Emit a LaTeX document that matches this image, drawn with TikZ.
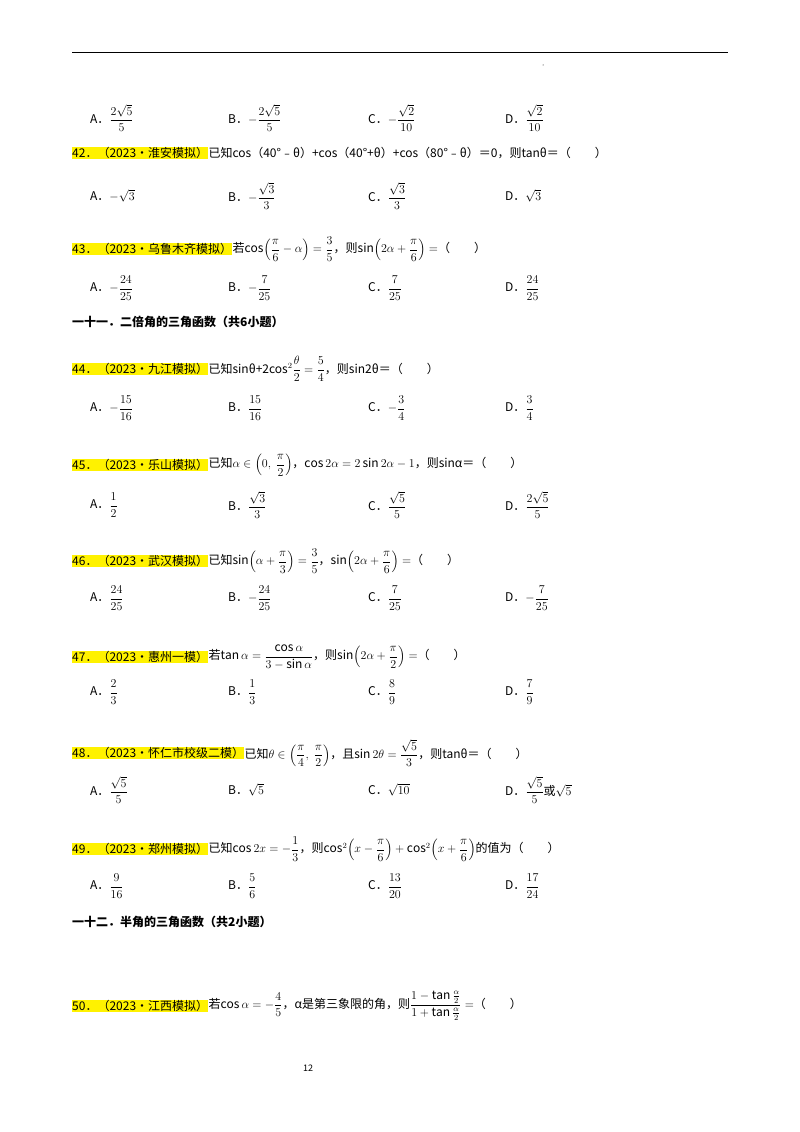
\documentclass[tikz,border=0pt]{standalone}
\usepackage{amsmath}
\usepackage{fontspec}
\setmainfont{Noto Sans CJK SC}
\begin{document}
\begin{tikzpicture}[x=1pt,y=-1pt,
  txt/.style={anchor=west,inner sep=0pt,font=\fontsize{12}{14}\selectfont},
  hl/.style={txt,fill=yellow},
  head/.style={txt,font=\fontsize{12}{14}\selectfont\bfseries}]
\useasboundingbox (0,0) rectangle (800,1132);
\fill[white] (0,0) rectangle (800,1132);
\coordinate (l1) at (72,53); \coordinate (l2) at (728,53);
\draw[line width=1pt] (l1) -- (l2);
\fill (543,65) circle (0.5);
\newcommand{\opts}[5]{%
 \node[txt] (a#1) at (90,#1) {A．#2};
 \node[txt] (b#1) at (228,#1) {B．#3};
 \node[txt] (c#1) at (368,#1) {C．#4};
 \node[txt] (d#1) at (505,#1) {D．#5};}
\opts{118}{$\dfrac{2\sqrt5}{5}$}{$-\dfrac{2\sqrt5}{5}$}{$-\dfrac{\sqrt2}{10}$}{$\dfrac{\sqrt2}{10}$}
\node[hl] (q42) at (72,153) {42．（2023•淮安模拟）};
\node[txt] (t42) at (q42.east) {已知cos（40°﹣θ）+cos（40°+θ）+cos（80°﹣θ）＝0，则tanθ＝（　　）};
\opts{196}{$-\sqrt3$}{$-\dfrac{\sqrt3}{3}$}{$\dfrac{\sqrt3}{3}$}{$\sqrt3$}
\node[hl] (q43) at (72,249) {43．（2023•乌鲁木齐模拟）};
\node[txt] (t43) at (q43.east) {若$\cos\!\left(\dfrac{\pi}{6}-\alpha\right)=\dfrac35$，则$\sin\!\left(2\alpha+\dfrac{\pi}{6}\right)=$（　　）};
\opts{288}{$-\dfrac{24}{25}$}{$-\dfrac{7}{25}$}{$\dfrac{7}{25}$}{$\dfrac{24}{25}$}
\node[head] (h11) at (72,322) {一十一．二倍角的三角函数（共6小题）};
\node[hl] (q44) at (72,369) {44．（2023•九江模拟）};
\node[txt] (t44) at (q44.east) {已知sinθ+2cos$^2\dfrac{\theta}{2}=\dfrac54$，则sin2θ＝（　　）};
\opts{408}{$-\dfrac{15}{16}$}{$\dfrac{15}{16}$}{$-\dfrac{3}{4}$}{$\dfrac{3}{4}$}
\node[hl] (q45) at (72,465) {45．（2023•乐山模拟）};
\node[txt] (t45) at (q45.east) {已知$\alpha\in\left(0,\ \dfrac{\pi}{2}\right)$，$\cos2\alpha=2\sin2\alpha-1$，则sinα＝（　　）};
\opts{505}{$\dfrac{1}{2}$}{$\dfrac{\sqrt3}{3}$}{$\dfrac{\sqrt5}{5}$}{$\dfrac{2\sqrt5}{5}$}
\node[hl] (q46) at (72,561) {46．（2023•武汉模拟）};
\node[txt] (t46) at (q46.east) {已知$\sin\!\left(\alpha+\dfrac{\pi}{3}\right)=\dfrac35$，$\sin\!\left(2\alpha+\dfrac{\pi}{6}\right)=$（　　）};
\opts{598}{$\dfrac{24}{25}$}{$-\dfrac{24}{25}$}{$\dfrac{7}{25}$}{$-\dfrac{7}{25}$}
\node[hl] (q47) at (72,657) {47．（2023•惠州一模）};
\node[txt] (t47) at (q47.east) {若$\tan\alpha=\dfrac{\cos\alpha}{3-\sin\alpha}$，则$\sin\!\left(2\alpha+\dfrac{\pi}{2}\right)=$（　　）};
\opts{692}{$\dfrac{2}{3}$}{$\dfrac{1}{3}$}{$\dfrac{8}{9}$}{$\dfrac{7}{9}$}
\node[hl] (q48) at (72,753) {48．（2023•怀仁市校级二模）};
\node[txt] (t48) at (q48.east) {已知$\theta\in\left(\dfrac{\pi}{4},\ \dfrac{\pi}{2}\right)$，且$\sin2\theta=\dfrac{\sqrt5}{3}$，则tanθ＝（　　）};
\opts{790}{$\dfrac{\sqrt5}{5}$}{$\sqrt5$}{$\sqrt{10}$}{$\dfrac{\sqrt5}{5}$或$\sqrt5$}
\node[hl] (q49) at (72,849) {49．（2023•郑州模拟）};
\node[txt] (t49) at (q49.east) {已知$\cos2x=-\dfrac13$，则$\cos^2\!\left(x-\dfrac{\pi}{6}\right)+\cos^2\!\left(x+\dfrac{\pi}{6}\right)$的值为（　　）};
\opts{886}{$\dfrac{9}{16}$}{$\dfrac{5}{6}$}{$\dfrac{13}{20}$}{$\dfrac{17}{24}$}
\node[head] (h12) at (72,922) {一十二．半角的三角函数（共2小题）};
\node[hl] (q50) at (72,1006) {50．（2023•江西模拟）};
\node[txt] (t50) at (q50.east) {若$\cos\alpha=-\dfrac45$，α是第三象限的角，则$\dfrac{1-\tan\frac{\alpha}{2}}{1+\tan\frac{\alpha}{2}}=$（　　）};
\node[txt,font=\fontsize{9}{10}\selectfont] (pg) at (303,1068) {12};
\end{tikzpicture}
\end{document}
